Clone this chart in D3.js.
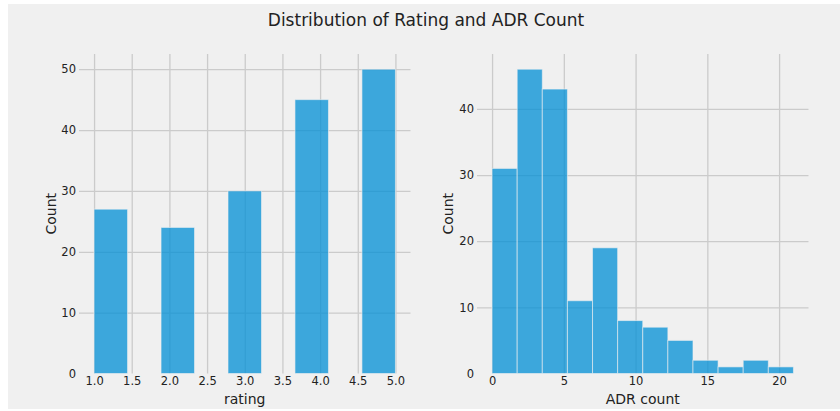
<!DOCTYPE html>
<html>
<head>
<meta charset="utf-8">
<script src="https://cdn.jsdelivr.net/npm/d3@7"></script>
<style>
  body { margin: 0; background: #fff; }
  text { font-family: "DejaVu Sans", sans-serif; fill: #222; }
  .grid line { stroke: #cbcbcb; stroke-width: 1.3; }
  .grid .domain { display: none; }
  .tick text { font-size: 11.5px; fill: #222; }
</style>
</head>
<body>
<div id="chart"></div>
<script>
// histogram of rating: 9 equal bins over [1, 5]
const ratingRange = [1, 5];
const ratingCounts = [27, 0, 24, 0, 30, 0, 45, 0, 50];
const ratingTicks = [1.0, 1.5, 2.0, 2.5, 3.0, 3.5, 4.0, 4.5, 5.0];
const ratingYTicks = [0, 10, 20, 30, 40, 50];

// histogram of ADR count: 12 equal bins over [0, 21]
const adrRange = [0, 21];
const adrCounts = [31, 46, 43, 11, 19, 8, 7, 5, 2, 1, 2, 1];
const adrTicks = [0, 5, 10, 15, 20];
const adrYTicks = [0, 10, 20, 30, 40];

const width = 840;
const height = 411;

const svg = d3.select('#chart').append('svg')
  .attr('width', width)
  .attr('height', height);

svg.append('rect')
  .attr('x', 8).attr('y', 4)
  .attr('width', width - 8).attr('height', 405)
  .attr('fill', '#f0f0f0');

svg.append('text')
  .attr('x', 426)
  .attr('y', 26)
  .attr('text-anchor', 'middle')
  .style('font-size', '17px')
  .text('Distribution of Rating and ADR Count');

function histPanel(opts) {
  const {x0, x1, y0, y1, range, counts, xTicks, yTicks, xFormat, xLabel, yLabelX} = opts;
  const n = counts.length;
  const step = (range[1] - range[0]) / n;
  const bins = counts.map((c, i) => ({lo: range[0] + i * step, hi: range[0] + (i + 1) * step, c}));
  const pad = (range[1] - range[0]) * 0.05;

  const xScale = d3.scaleLinear().domain([range[0] - pad, range[1] + pad]).range([x0, x1]);
  const yScale = d3.scaleLinear().domain([0, d3.max(counts) * 1.05]).range([y1, y0]);

  const g = svg.append('g');

  g.append('g')
    .attr('class', 'grid')
    .attr('transform', `translate(0,${y1})`)
    .call(d3.axisBottom(xScale).tickValues(xTicks).tickFormat(xFormat)
      .tickSize(-(y1 - y0)).tickPadding(3.5));

  g.append('g')
    .attr('class', 'grid')
    .attr('transform', `translate(${x0},0)`)
    .call(d3.axisLeft(yScale).tickValues(yTicks).tickFormat(d3.format('d'))
      .tickSize(-(x1 - x0)).tickPadding(3));

  // hide the grid line sitting on the bottom edge
  g.selectAll('.grid .tick').filter(d => d === 0 && yTicks.includes(d))
    .select('line').attr('stroke-opacity', function () {
      return this.parentNode.parentNode.getAttribute('transform').startsWith('translate(' + x0) ? 0 : 1;
    });

  g.selectAll('rect.bar').data(bins.filter(b => b.c > 0))
    .enter().append('rect')
    .attr('class', 'bar')
    .attr('x', d => xScale(d.lo))
    .attr('y', d => yScale(d.c))
    .attr('width', d => xScale(d.hi) - xScale(d.lo))
    .attr('height', d => yScale(0) - yScale(d.c))
    .attr('fill', '#008fd5')
    .attr('fill-opacity', 0.75)
    .attr('stroke', '#f0f0f0')
    .attr('stroke-opacity', 0.6)
    .attr('stroke-width', 1);

  g.append('text')
    .attr('x', (x0 + x1) / 2)
    .attr('y', 404)
    .attr('text-anchor', 'middle')
    .style('font-size', '14px')
    .text(xLabel);

  g.append('text')
    .attr('transform', `translate(${yLabelX},${(y0 + y1) / 2}) rotate(-90)`)
    .attr('text-anchor', 'middle')
    .style('font-size', '14px')
    .text('Count');
}

histPanel({
  x0: 79, x1: 410.5, y0: 54, y1: 373.5,
  range: ratingRange, counts: ratingCounts,
  xTicks: ratingTicks, yTicks: ratingYTicks,
  xFormat: d3.format('.1f'), xLabel: 'rating', yLabelX: 56
});

histPanel({
  x0: 477, x1: 808.5, y0: 54, y1: 373.5,
  range: adrRange, counts: adrCounts,
  xTicks: adrTicks, yTicks: adrYTicks,
  xFormat: d3.format('d'), xLabel: 'ADR count', yLabelX: 453
});
</script>
</body>
</html>
